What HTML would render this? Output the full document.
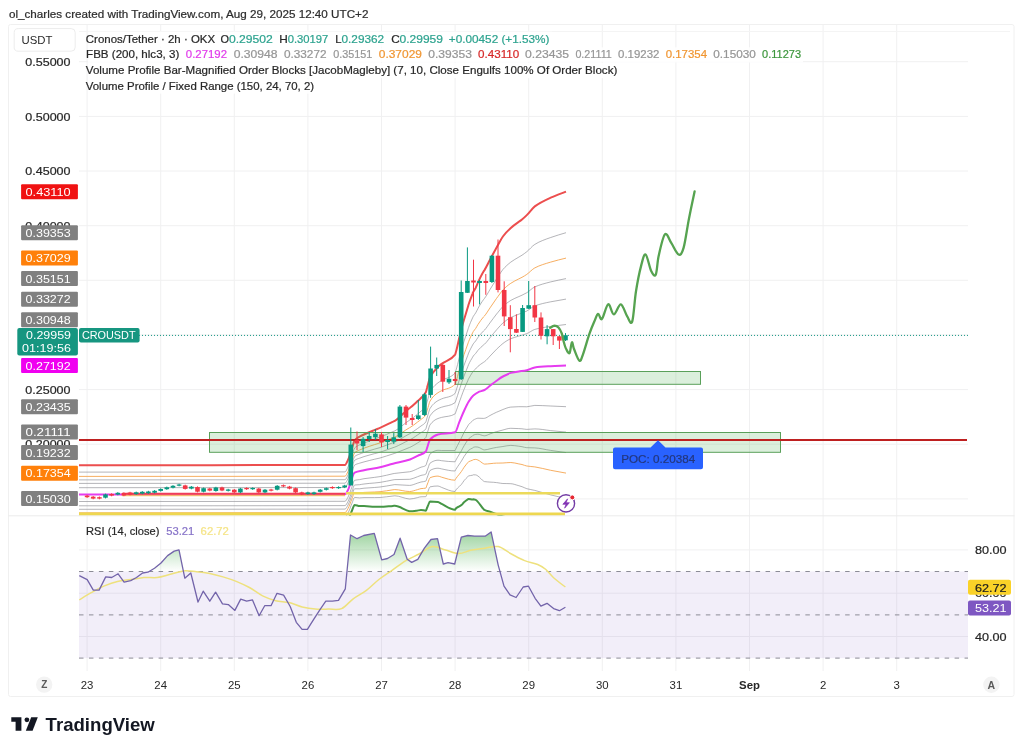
<!DOCTYPE html>
<html><head><meta charset="utf-8"><style>
html,body{margin:0;padding:0;background:#fff;}
body{width:1024px;height:752px;overflow:hidden;position:relative;font-family:'Liberation Sans', sans-serif;}
svg{position:absolute;left:0;top:0;filter:blur(0.3px);}
svg text{font-family:'Liberation Sans', sans-serif;}
</style></head><body>
<svg width="1024" height="752" viewBox="0 0 1024 752">
<defs>
<clipPath id="mainclip"><rect x="79" y="31" width="889" height="484.5"/></clipPath>
<clipPath id="rsiclip"><rect x="79" y="516.5" width="889" height="154.5"/></clipPath>
<linearGradient id="rsig" x1="0" y1="0" x2="0" y2="1"><stop offset="0" stop-color="rgb(76,175,80)" stop-opacity="0.55"/><stop offset="1" stop-color="rgb(76,175,80)" stop-opacity="0"/></linearGradient>
</defs>
<rect x="8.5" y="24.5" width="1005.5" height="672" rx="2" fill="#fff" stroke="#f0f0f0" stroke-width="1"/>
<line x1="79" x2="968" y1="61.7" y2="61.7" stroke="#f0f0f1" stroke-width="1"/>
<line x1="79" x2="968" y1="116.4" y2="116.4" stroke="#f0f0f1" stroke-width="1"/>
<line x1="79" x2="968" y1="171.0" y2="171.0" stroke="#f0f0f1" stroke-width="1"/>
<line x1="79" x2="968" y1="225.7" y2="225.7" stroke="#f0f0f1" stroke-width="1"/>
<line x1="79" x2="968" y1="280.3" y2="280.3" stroke="#f0f0f1" stroke-width="1"/>
<line x1="79" x2="968" y1="335.0" y2="335.0" stroke="#f0f0f1" stroke-width="1"/>
<line x1="79" x2="968" y1="389.6" y2="389.6" stroke="#f0f0f1" stroke-width="1"/>
<line x1="79" x2="968" y1="444.2" y2="444.2" stroke="#f0f0f1" stroke-width="1"/>
<line x1="79" x2="968" y1="498.9" y2="498.9" stroke="#f0f0f1" stroke-width="1"/>
<line x1="87.1" x2="87.1" y1="25" y2="671" stroke="#f0f0f1" stroke-width="1"/>
<line x1="160.7" x2="160.7" y1="25" y2="671" stroke="#f0f0f1" stroke-width="1"/>
<line x1="234.3" x2="234.3" y1="25" y2="671" stroke="#f0f0f1" stroke-width="1"/>
<line x1="307.9" x2="307.9" y1="25" y2="671" stroke="#f0f0f1" stroke-width="1"/>
<line x1="381.5" x2="381.5" y1="25" y2="671" stroke="#f0f0f1" stroke-width="1"/>
<line x1="455.1" x2="455.1" y1="25" y2="671" stroke="#f0f0f1" stroke-width="1"/>
<line x1="528.7" x2="528.7" y1="25" y2="671" stroke="#f0f0f1" stroke-width="1"/>
<line x1="602.3" x2="602.3" y1="25" y2="671" stroke="#f0f0f1" stroke-width="1"/>
<line x1="675.9" x2="675.9" y1="25" y2="671" stroke="#f0f0f1" stroke-width="1"/>
<line x1="749.5" x2="749.5" y1="25" y2="671" stroke="#f0f0f1" stroke-width="1"/>
<line x1="823.1" x2="823.1" y1="25" y2="671" stroke="#f0f0f1" stroke-width="1"/>
<line x1="896.7" x2="896.7" y1="25" y2="671" stroke="#f0f0f1" stroke-width="1"/>
<line x1="79" x2="968" y1="549.9" y2="549.9" stroke="#f0f0f1" stroke-width="1"/>
<line x1="79" x2="968" y1="593.2" y2="593.2" stroke="#f0f0f1" stroke-width="1"/>
<line x1="79" x2="968" y1="636.5" y2="636.5" stroke="#f0f0f1" stroke-width="1"/>
<line x1="79" x2="1010" y1="31.5" y2="31.5" stroke="#f4f4f4" stroke-width="1"/>
<line x1="8.5" x2="1014.5" y1="515.8" y2="515.8" stroke="#ececec" stroke-width="1"/>
<g clip-path="url(#mainclip)">
<path d="M79.0,465.2 C167.7,465.1 256.3,465.2 345.0,465.0 C346.0,465.0 347.0,462.0 348.0,459.9 C349.3,457.1 350.7,452.5 352.0,448.5 C352.9,445.9 353.7,441.5 354.6,440.4 C356.3,438.3 357.9,437.7 359.6,436.7 C361.1,435.9 362.5,435.2 364.0,434.5 C367.4,432.9 370.9,431.5 374.3,430.1 C376.2,429.3 378.1,428.6 380.0,427.8 C384.3,426.0 388.7,423.7 393.0,421.7 C393.6,421.4 394.2,421.2 394.8,420.8 C399.7,418.1 404.5,411.6 409.4,408.2 C409.6,408.0 409.8,407.9 410.0,407.8 C412.5,406.0 415.1,403.4 417.6,401.1 C418.7,400.1 419.9,399.2 421.0,398.0 C422.6,396.4 424.2,395.5 425.8,392.3 C426.2,391.5 426.6,389.4 427.0,388.0 C427.3,386.7 427.7,385.5 428.0,384.3 C428.7,382.0 429.3,378.8 430.0,377.4 C432.7,371.9 435.3,369.5 438.0,366.9 C439.2,365.7 440.4,364.8 441.6,363.9 C446.1,360.5 450.6,360.8 455.1,354.6 C455.3,354.3 455.6,353.3 455.8,352.5 C457.0,348.6 458.1,342.7 459.3,337.8 C460.0,334.9 460.7,331.8 461.4,329.1 C462.3,325.8 463.1,322.7 464.0,319.8 C465.3,315.4 466.5,311.6 467.8,307.3 C468.1,306.4 468.3,305.4 468.6,304.5 C469.9,300.3 471.3,296.8 472.6,293.5 C472.8,292.9 473.1,292.4 473.3,291.9 C474.1,290.3 474.9,289.5 475.7,287.9 C476.4,286.4 477.2,284.3 477.9,282.7 C479.8,278.5 481.8,274.4 483.7,271.3 C484.0,270.8 484.2,270.5 484.5,270.1 C486.3,267.2 488.2,263.2 490.0,259.8 C492.2,255.7 494.4,251.4 496.6,247.4 C497.1,246.5 497.6,245.6 498.1,244.7 C499.7,241.9 501.3,238.7 502.9,236.5 C505.5,232.9 508.2,230.3 510.8,227.9 C513.5,225.5 516.1,223.7 518.8,221.8 C519.9,221.0 520.9,220.3 522.0,219.4 C523.6,218.1 525.2,216.7 526.8,215.1 C529.5,212.5 532.1,208.4 534.8,206.4 C540.1,202.4 545.4,200.1 550.7,197.7 C555.8,195.3 560.9,193.6 566.0,191.6" fill="none" stroke="rgb(236,78,78)" stroke-width="2.0" stroke-linejoin="round"/>
<path d="M79.0,472.1 C167.7,472.1 256.3,472.1 345.0,471.9 C346.0,471.9 347.0,469.1 348.0,467.0 C349.3,464.3 350.7,459.7 352.0,455.8 C352.9,453.3 353.7,449.0 354.6,448.0 C356.3,446.2 357.9,445.8 359.6,444.9 C361.1,444.2 362.5,443.6 364.0,443.0 C367.4,441.6 370.9,440.3 374.3,439.1 C376.2,438.4 378.1,437.9 380.0,437.1 C384.3,435.5 388.7,433.4 393.0,431.6 C393.6,431.4 394.2,431.2 394.8,430.9 C399.7,428.5 404.5,423.2 409.4,420.3 C409.6,420.2 409.8,420.1 410.0,420.0 C412.5,418.4 415.1,416.1 417.6,414.0 C418.7,413.1 419.9,412.3 421.0,411.2 C422.6,409.8 424.2,409.1 425.8,406.3 C426.2,405.6 426.6,403.5 427.0,402.1 C427.3,401.0 427.7,399.8 428.0,398.6 C428.7,396.4 429.3,393.4 430.0,392.1 C432.7,387.0 435.3,385.0 438.0,382.8 C439.2,381.8 440.4,381.2 441.6,380.5 C446.1,377.7 450.6,378.2 455.1,372.9 C455.3,372.6 455.6,371.7 455.8,370.9 C457.0,367.3 458.1,362.1 459.3,357.7 C460.0,355.1 460.7,352.4 461.4,349.9 C462.3,346.9 463.1,344.0 464.0,341.3 C465.3,337.3 466.5,333.9 467.8,330.0 C468.1,329.2 468.3,328.2 468.6,327.5 C469.9,323.7 471.3,320.7 472.6,317.8 C472.8,317.3 473.1,316.8 473.3,316.4 C474.1,315.0 474.9,314.2 475.7,312.9 C476.4,311.7 477.2,309.9 477.9,308.6 C479.8,305.1 481.8,301.9 483.7,299.4 C484.0,299.0 484.2,298.8 484.5,298.4 C486.3,296.0 488.2,292.5 490.0,289.5 C492.2,286.0 494.4,282.3 496.6,278.8 C497.1,278.1 497.6,277.3 498.1,276.6 C499.7,274.2 501.3,271.4 502.9,269.5 C505.5,266.5 508.2,264.1 510.8,262.1 C513.5,260.1 516.1,258.7 518.8,257.1 C519.9,256.4 520.9,255.9 522.0,255.2 C523.6,254.1 525.2,253.0 526.8,251.7 C529.5,249.6 532.1,246.0 534.8,244.4 C540.1,241.1 545.4,239.4 550.7,237.5 C555.8,235.6 560.9,234.3 566.0,232.7" fill="none" stroke="rgba(145,145,150,0.68)" stroke-width="1" stroke-linejoin="round"/>
<path d="M79.0,476.4 C167.7,476.4 256.3,476.4 345.0,476.2 C346.0,476.2 347.0,473.4 348.0,471.4 C349.3,468.7 350.7,464.2 352.0,460.4 C352.9,457.9 353.7,453.6 354.6,452.8 C356.3,451.1 357.9,450.8 359.6,450.0 C361.1,449.3 362.5,448.7 364.0,448.2 C367.4,446.9 370.9,445.8 374.3,444.7 C376.2,444.1 378.1,443.6 380.0,442.9 C384.3,441.4 388.7,439.4 393.0,437.8 C393.6,437.5 394.2,437.3 394.8,437.1 C399.7,434.9 404.5,430.4 409.4,427.8 C409.6,427.7 409.8,427.6 410.0,427.5 C412.5,426.1 415.1,423.9 417.6,422.0 C418.7,421.2 419.9,420.4 421.0,419.4 C422.6,418.1 424.2,417.6 425.8,414.9 C426.2,414.3 426.6,412.2 427.0,410.9 C427.3,409.8 427.7,408.6 428.0,407.5 C428.7,405.3 429.3,402.3 430.0,401.2 C432.7,396.4 435.3,394.5 438.0,392.7 C439.2,391.8 440.4,391.3 441.6,390.7 C446.1,388.3 450.6,388.9 455.1,384.2 C455.3,384.0 455.6,383.0 455.8,382.3 C457.0,378.8 458.1,374.1 459.3,370.0 C460.0,367.6 460.7,365.1 461.4,362.8 C462.3,359.9 463.1,357.2 464.0,354.6 C465.3,350.9 466.5,347.6 467.8,344.0 C468.1,343.2 468.3,342.3 468.6,341.7 C469.9,338.2 471.3,335.5 472.6,332.9 C472.8,332.4 473.1,331.9 473.3,331.5 C474.1,330.2 474.9,329.6 475.7,328.4 C476.4,327.3 477.2,325.7 477.9,324.6 C479.8,321.6 481.8,318.9 483.7,316.7 C484.0,316.4 484.2,316.2 484.5,315.9 C486.3,313.8 488.2,310.6 490.0,307.9 C492.2,304.7 494.4,301.4 496.6,298.3 C497.1,297.6 497.6,296.9 498.1,296.3 C499.7,294.1 501.3,291.7 502.9,290.0 C505.5,287.2 508.2,285.0 510.8,283.3 C513.5,281.5 516.1,280.3 518.8,278.9 C519.9,278.4 520.9,277.9 522.0,277.3 C523.6,276.4 525.2,275.5 526.8,274.4 C529.5,272.5 532.1,269.3 534.8,267.9 C540.1,265.1 545.4,263.7 550.7,262.1 C555.8,260.5 560.9,259.4 566.0,258.1" fill="none" stroke="rgba(245,170,90,0.95)" stroke-width="1" stroke-linejoin="round"/>
<path d="M79.0,479.9 C167.7,479.8 256.3,479.9 345.0,479.7 C346.0,479.7 347.0,476.9 348.0,475.0 C349.3,472.3 350.7,467.8 352.0,464.0 C352.9,461.6 353.7,457.4 354.6,456.6 C356.3,455.0 357.9,454.8 359.6,454.1 C361.1,453.4 362.5,452.9 364.0,452.4 C367.4,451.2 370.9,450.2 374.3,449.2 C376.2,448.7 378.1,448.2 380.0,447.6 C384.3,446.2 388.7,444.3 393.0,442.7 C393.6,442.5 394.2,442.3 394.8,442.1 C399.7,440.1 404.5,436.2 409.4,433.9 C409.6,433.8 409.8,433.7 410.0,433.6 C412.5,432.3 415.1,430.2 417.6,428.5 C418.7,427.7 419.9,426.9 421.0,426.0 C422.6,424.8 424.2,424.4 425.8,421.9 C426.2,421.3 426.6,419.3 427.0,418.0 C427.3,416.9 427.7,415.7 428.0,414.7 C428.7,412.5 429.3,409.6 430.0,408.5 C432.7,404.0 435.3,402.3 438.0,400.6 C439.2,399.9 440.4,399.5 441.6,398.9 C446.1,396.9 450.6,397.5 455.1,393.4 C455.3,393.2 455.6,392.2 455.8,391.5 C457.0,388.1 458.1,383.8 459.3,380.0 C460.0,377.7 460.7,375.3 461.4,373.1 C462.3,370.4 463.1,367.8 464.0,365.4 C465.3,361.8 466.5,358.7 467.8,355.3 C468.1,354.6 468.3,353.8 468.6,353.1 C469.9,349.9 471.3,347.5 472.6,345.0 C472.8,344.6 473.1,344.1 473.3,343.8 C474.1,342.6 474.9,342.0 475.7,340.9 C476.4,339.9 477.2,338.5 477.9,337.5 C479.8,334.9 481.8,332.7 483.7,330.8 C484.0,330.5 484.2,330.3 484.5,330.1 C486.3,328.2 488.2,325.2 490.0,322.8 C492.2,319.9 494.4,316.8 496.6,314.0 C497.1,313.4 497.6,312.8 498.1,312.2 C499.7,310.3 501.3,308.0 502.9,306.5 C505.5,304.0 508.2,302.0 510.8,300.4 C513.5,298.8 516.1,297.8 518.8,296.6 C519.9,296.1 520.9,295.7 522.0,295.2 C523.6,294.4 525.2,293.6 526.8,292.7 C529.5,291.1 532.1,288.1 534.8,286.9 C540.1,284.5 545.4,283.3 550.7,281.9 C555.8,280.6 560.9,279.7 566.0,278.6" fill="none" stroke="rgba(145,145,150,0.68)" stroke-width="1" stroke-linejoin="round"/>
<path d="M79.0,483.4 C167.7,483.3 256.3,483.4 345.0,483.2 C346.0,483.2 347.0,480.5 348.0,478.5 C349.3,475.9 350.7,471.4 352.0,467.7 C352.9,465.3 353.7,461.1 354.6,460.4 C356.3,459.0 357.9,458.8 359.6,458.2 C361.1,457.6 362.5,457.1 364.0,456.6 C367.4,455.5 370.9,454.7 374.3,453.7 C376.2,453.2 378.1,452.8 380.0,452.2 C384.3,450.9 388.7,449.2 393.0,447.7 C393.6,447.5 394.2,447.3 394.8,447.1 C399.7,445.3 404.5,442.1 409.4,440.0 C409.6,439.9 409.8,439.8 410.0,439.7 C412.5,438.6 415.1,436.6 417.6,434.9 C418.7,434.2 419.9,433.4 421.0,432.6 C422.6,431.5 424.2,431.2 425.8,428.9 C426.2,428.3 426.6,426.3 427.0,425.0 C427.3,424.0 427.7,422.9 428.0,421.8 C428.7,419.7 429.3,416.8 430.0,415.8 C432.7,411.7 435.3,410.0 438.0,408.6 C439.2,408.0 440.4,407.6 441.6,407.2 C446.1,405.5 450.6,406.1 455.1,402.6 C455.3,402.4 455.6,401.4 455.8,400.7 C457.0,397.5 458.1,393.5 459.3,389.9 C460.0,387.8 460.7,385.6 461.4,383.5 C462.3,381.0 463.1,378.5 464.0,376.1 C465.3,372.8 466.5,369.9 467.8,366.6 C468.1,366.0 468.3,365.2 468.6,364.6 C469.9,361.6 471.3,359.5 472.6,357.2 C472.8,356.8 473.1,356.3 473.3,356.0 C474.1,354.9 474.9,354.3 475.7,353.4 C476.4,352.5 477.2,351.3 477.9,350.4 C479.8,348.2 481.8,346.4 483.7,344.8 C484.0,344.6 484.2,344.4 484.5,344.2 C486.3,342.6 488.2,339.9 490.0,337.7 C492.2,335.0 494.4,332.3 496.6,329.8 C497.1,329.2 497.6,328.7 498.1,328.1 C499.7,326.4 501.3,324.4 502.9,323.0 C505.5,320.8 508.2,318.9 510.8,317.5 C513.5,316.1 516.1,315.3 518.8,314.2 C519.9,313.8 520.9,313.5 522.0,313.0 C523.6,312.4 525.2,311.8 526.8,311.0 C529.5,309.6 532.1,306.9 534.8,305.9 C540.1,303.9 545.4,302.9 550.7,301.8 C555.8,300.8 560.9,300.0 566.0,299.1" fill="none" stroke="rgba(145,145,150,0.68)" stroke-width="1" stroke-linejoin="round"/>
<path d="M79.0,487.7 C167.7,487.6 256.3,487.7 345.0,487.5 C346.0,487.5 347.0,484.8 348.0,482.9 C349.3,480.3 350.7,475.8 352.0,472.2 C352.9,469.9 353.7,465.7 354.6,465.1 C356.3,463.9 357.9,463.8 359.6,463.2 C361.1,462.7 362.5,462.3 364.0,461.9 C367.4,460.9 370.9,460.2 374.3,459.3 C376.2,458.9 378.1,458.5 380.0,458.0 C384.3,456.8 388.7,455.2 393.0,453.9 C393.6,453.7 394.2,453.5 394.8,453.3 C399.7,451.7 404.5,449.3 409.4,447.5 C409.6,447.4 409.8,447.4 410.0,447.3 C412.5,446.3 415.1,444.4 417.6,442.9 C418.7,442.2 419.9,441.5 421.0,440.8 C422.6,439.8 424.2,439.6 425.8,437.5 C426.2,437.0 426.6,435.0 427.0,433.8 C427.3,432.8 427.7,431.7 428.0,430.7 C428.7,428.7 429.3,425.8 430.0,424.9 C432.7,421.1 435.3,419.5 438.0,418.5 C439.2,418.0 440.4,417.8 441.6,417.4 C446.1,416.2 450.6,416.7 455.1,413.9 C455.3,413.7 455.6,412.7 455.8,412.1 C457.0,409.0 458.1,405.5 459.3,402.2 C460.0,400.3 460.7,398.3 461.4,396.4 C462.3,394.0 463.1,391.6 464.0,389.5 C465.3,386.3 466.5,383.6 467.8,380.7 C468.1,380.0 468.3,379.3 468.6,378.8 C469.9,376.1 471.3,374.3 472.6,372.2 C472.8,371.8 473.1,371.4 473.3,371.1 C474.1,370.2 474.9,369.7 475.7,368.9 C476.4,368.1 477.2,367.1 477.9,366.4 C479.8,364.7 481.8,363.5 483.7,362.2 C484.0,362.0 484.2,361.9 484.5,361.7 C486.3,360.4 488.2,358.0 490.0,356.1 C492.2,353.8 494.4,351.4 496.6,349.2 C497.1,348.7 497.6,348.3 498.1,347.8 C499.7,346.4 501.3,344.6 502.9,343.5 C505.5,341.5 508.2,339.8 510.8,338.7 C513.5,337.6 516.1,336.9 518.8,336.1 C519.9,335.8 520.9,335.5 522.0,335.2 C523.6,334.7 525.2,334.2 526.8,333.6 C529.5,332.6 532.1,330.2 534.8,329.4 C540.1,327.9 545.4,327.2 550.7,326.4 C555.8,325.7 560.9,325.2 566.0,324.5" fill="none" stroke="rgba(145,145,150,0.68)" stroke-width="1" stroke-linejoin="round"/>
<path d="M79.0,501.5 C167.7,501.5 256.3,501.5 345.0,501.3 C346.0,501.3 347.0,498.9 348.0,497.1 C349.3,494.7 350.7,490.2 352.0,486.8 C352.9,484.6 353.7,480.6 354.6,480.3 C356.3,479.8 357.9,479.9 359.6,479.6 C361.1,479.4 362.5,479.0 364.0,478.7 C367.4,478.2 370.9,477.9 374.3,477.4 C376.2,477.2 378.1,476.9 380.0,476.6 C384.3,475.9 388.7,474.7 393.0,473.7 C393.6,473.6 394.2,473.5 394.8,473.4 C399.7,472.6 404.5,472.5 409.4,471.8 C409.6,471.8 409.8,471.7 410.0,471.7 C412.5,471.2 415.1,469.8 417.6,468.7 C418.7,468.2 419.9,467.7 421.0,467.2 C422.6,466.6 424.2,466.7 425.8,465.5 C426.2,465.2 426.6,463.2 427.0,462.1 C427.3,461.2 427.7,460.2 428.0,459.3 C428.7,457.5 429.3,454.8 430.0,454.1 C432.7,451.7 435.3,450.3 438.0,450.3 C439.2,450.3 440.4,450.4 441.6,450.5 C446.1,450.5 450.6,450.5 455.1,450.5 C455.3,450.5 455.6,449.4 455.8,448.9 C457.0,446.4 458.1,444.3 459.3,442.0 C460.0,440.6 460.7,439.3 461.4,437.9 C462.3,436.2 463.1,434.2 464.0,432.5 C465.3,430.1 466.5,428.1 467.8,426.0 C468.1,425.5 468.3,425.0 468.6,424.6 C469.9,422.9 471.3,422.2 472.6,420.8 C472.8,420.6 473.1,420.2 473.3,420.1 C474.1,419.5 474.9,419.2 475.7,418.9 C476.4,418.6 477.2,418.2 477.9,418.2 C479.8,418.2 481.8,418.4 483.7,418.4 C484.0,418.4 484.2,418.3 484.5,418.3 C486.3,418.1 488.2,416.5 490.0,415.5 C492.2,414.4 494.4,413.1 496.6,412.2 C497.1,411.9 497.6,411.8 498.1,411.6 C499.7,410.9 501.3,410.1 502.9,409.5 C505.5,408.6 508.2,407.3 510.8,407.1 C513.5,406.9 516.1,406.8 518.8,406.7 C519.9,406.7 520.9,406.7 522.0,406.7 C523.6,406.7 525.2,406.8 526.8,406.8 C529.5,406.8 532.1,405.4 534.8,405.4 C540.1,405.4 545.4,405.8 550.7,406.0 C555.8,406.2 560.9,406.4 566.0,406.7" fill="none" stroke="rgba(145,145,150,0.68)" stroke-width="1" stroke-linejoin="round"/>
<path d="M79.0,505.8 C167.7,505.8 256.3,505.8 345.0,505.6 C346.0,505.6 347.0,503.3 348.0,501.5 C349.3,499.1 350.7,494.7 352.0,491.4 C352.9,489.2 353.7,485.2 354.6,485.0 C356.3,484.8 357.9,484.8 359.6,484.7 C361.1,484.5 362.5,484.1 364.0,484.0 C367.4,483.5 370.9,483.3 374.3,483.0 C376.2,482.8 378.1,482.6 380.0,482.4 C384.3,481.8 388.7,480.7 393.0,479.9 C393.6,479.8 394.2,479.6 394.8,479.6 C399.7,479.4 404.5,479.5 409.4,479.3 C409.6,479.3 409.8,479.3 410.0,479.3 C412.5,478.9 415.1,477.6 417.6,476.7 C418.7,476.3 419.9,475.8 421.0,475.4 C422.6,474.9 424.2,475.1 425.8,474.1 C426.2,473.9 426.6,472.0 427.0,470.9 C427.3,470.0 427.7,469.0 428.0,468.2 C428.7,466.4 429.3,463.7 430.0,463.2 C432.7,461.2 435.3,460.2 438.0,460.2 C439.2,460.2 440.4,460.5 441.6,460.7 C446.1,461.2 450.6,461.8 455.1,461.8 C455.3,461.8 455.6,460.8 455.8,460.3 C457.0,458.0 458.1,456.3 459.3,454.3 C460.0,453.1 460.7,452.0 461.4,450.8 C462.3,449.2 463.1,447.3 464.0,445.9 C465.3,443.7 466.5,441.9 467.8,440.0 C468.1,439.6 468.3,439.1 468.6,438.8 C469.9,437.4 471.3,437.0 472.6,435.9 C472.8,435.7 473.1,435.3 473.3,435.2 C474.1,434.8 474.9,434.5 475.7,434.4 C476.4,434.3 477.2,434.2 477.9,434.2 C479.8,434.2 481.8,435.5 483.7,435.7 C484.0,435.8 484.2,435.8 484.5,435.8 C486.3,435.8 488.2,434.6 490.0,433.9 C492.2,433.2 494.4,432.2 496.6,431.6 C497.1,431.5 497.6,431.4 498.1,431.3 C499.7,430.9 501.3,430.4 502.9,430.0 C505.5,429.3 508.2,428.3 510.8,428.3 C513.5,428.3 516.1,428.4 518.8,428.6 C519.9,428.6 520.9,428.7 522.0,428.8 C523.6,428.9 525.2,429.4 526.8,429.4 C529.5,429.4 532.1,428.9 534.8,428.9 C540.1,428.9 545.4,430.0 550.7,430.6 C555.8,431.1 560.9,431.6 566.0,432.1" fill="none" stroke="rgba(145,145,150,0.68)" stroke-width="1" stroke-linejoin="round"/>
<path d="M79.0,509.3 C167.7,509.2 256.3,509.3 345.0,509.1 C346.0,509.1 347.0,506.8 348.0,505.0 C349.3,502.7 350.7,498.3 352.0,495.0 C352.9,492.9 353.7,488.9 354.6,488.8 C356.3,488.8 357.9,488.8 359.6,488.8 C361.1,488.7 362.5,488.3 364.0,488.2 C367.4,487.9 370.9,487.8 374.3,487.5 C376.2,487.4 378.1,487.2 380.0,487.0 C384.3,486.6 388.7,485.5 393.0,484.9 C393.6,484.8 394.2,484.6 394.8,484.6 C399.7,484.6 404.5,485.4 409.4,485.4 C409.6,485.4 409.8,485.4 410.0,485.4 C412.5,485.2 415.1,483.9 417.6,483.1 C418.7,482.8 419.9,482.3 421.0,482.0 C422.6,481.6 424.2,481.8 425.8,481.1 C426.2,480.9 426.6,479.0 427.0,478.0 C427.3,477.1 427.7,476.2 428.0,475.3 C428.7,473.7 429.3,470.9 430.0,470.5 C432.7,468.9 435.3,468.2 438.0,468.2 C439.2,468.2 440.4,468.7 441.6,468.9 C446.1,469.8 450.6,471.0 455.1,471.0 C455.3,471.0 455.6,469.9 455.8,469.5 C457.0,467.4 458.1,466.0 459.3,464.2 C460.0,463.2 460.7,462.3 461.4,461.1 C462.3,459.8 463.1,458.0 464.0,456.6 C465.3,454.7 466.5,453.0 467.8,451.3 C468.1,451.0 468.3,450.5 468.6,450.3 C469.9,449.1 471.3,448.9 472.6,448.0 C472.8,447.8 473.1,447.5 473.3,447.4 C474.1,447.1 474.9,446.9 475.7,446.9 C476.4,446.9 477.2,447.0 477.9,447.1 C479.8,447.4 481.8,449.3 483.7,449.8 C484.0,449.8 484.2,449.9 484.5,449.9 C486.3,449.9 488.2,449.2 490.0,448.8 C492.2,448.3 494.4,447.7 496.6,447.4 C497.1,447.3 497.6,447.3 498.1,447.2 C499.7,447.0 501.3,446.7 502.9,446.5 C505.5,446.1 508.2,445.4 510.8,445.4 C513.5,445.4 516.1,445.9 518.8,446.2 C519.9,446.4 520.9,446.5 522.0,446.7 C523.6,446.9 525.2,447.7 526.8,447.7 C529.5,447.8 532.1,447.8 534.8,447.9 C540.1,448.1 545.4,449.7 550.7,450.4 C555.8,451.2 560.9,451.9 566.0,452.6" fill="none" stroke="rgba(145,145,150,0.68)" stroke-width="1" stroke-linejoin="round"/>
<path d="M79.0,512.8 C167.7,512.7 256.3,512.8 345.0,512.6 C346.0,512.6 347.0,510.3 348.0,508.6 C349.3,506.3 350.7,501.9 352.0,498.7 C352.9,496.6 353.7,492.6 354.6,492.6 C356.3,492.6 357.9,492.9 359.6,492.9 C361.1,492.9 362.5,492.5 364.0,492.4 C367.4,492.2 370.9,492.2 374.3,492.0 C376.2,491.9 378.1,491.8 380.0,491.7 C384.3,491.3 388.7,490.4 393.0,489.8 C393.6,489.8 394.2,489.6 394.8,489.6 C399.7,489.6 404.5,491.5 409.4,491.5 C409.6,491.5 409.8,491.5 410.0,491.5 C412.5,491.4 415.1,490.3 417.6,489.6 C418.7,489.3 419.9,488.8 421.0,488.6 C422.6,488.4 424.2,488.5 425.8,488.1 C426.2,488.0 426.6,486.0 427.0,485.0 C427.3,484.2 427.7,483.3 428.0,482.5 C428.7,480.9 429.3,478.2 430.0,477.8 C432.7,476.6 435.3,476.1 438.0,476.1 C439.2,476.1 440.4,476.9 441.6,477.2 C446.1,478.4 450.6,480.2 455.1,480.2 C455.3,480.2 455.6,479.1 455.8,478.7 C457.0,476.8 458.1,475.7 459.3,474.2 C460.0,473.3 460.7,472.5 461.4,471.5 C462.3,470.3 463.1,468.6 464.0,467.4 C465.3,465.6 466.5,464.1 467.8,462.6 C468.1,462.3 468.3,461.9 468.6,461.7 C469.9,460.9 471.3,460.9 472.6,460.2 C472.8,460.0 473.1,459.7 473.3,459.7 C474.1,459.5 474.9,459.4 475.7,459.4 C476.4,459.4 477.2,459.7 477.9,460.0 C479.8,460.7 481.8,463.0 483.7,463.8 C484.0,463.9 484.2,464.1 484.5,464.1 C486.3,464.1 488.2,463.8 490.0,463.7 C492.2,463.5 494.4,463.1 496.6,463.1 C497.1,463.1 497.6,463.1 498.1,463.1 C499.7,463.1 501.3,463.1 502.9,463.0 C505.5,462.9 508.2,462.5 510.8,462.5 C513.5,462.5 516.1,463.4 518.8,463.9 C519.9,464.1 520.9,464.3 522.0,464.5 C523.6,464.9 525.2,465.8 526.8,466.0 C529.5,466.5 532.1,466.5 534.8,466.9 C540.1,467.6 545.4,469.3 550.7,470.3 C555.8,471.3 560.9,472.2 566.0,473.1" fill="none" stroke="rgba(245,170,90,0.95)" stroke-width="1" stroke-linejoin="round"/>
<path d="M79.0,517.1 C167.7,517.0 256.3,517.1 345.0,516.9 C346.0,516.9 347.0,514.7 348.0,513.0 C349.3,510.8 350.7,506.3 352.0,503.2 C352.9,501.2 353.7,497.4 354.6,497.4 C356.3,497.4 357.9,497.9 359.6,497.9 C361.1,497.9 362.5,497.6 364.0,497.6 C367.4,497.6 370.9,497.6 374.3,497.6 C376.2,497.6 378.1,497.5 380.0,497.5 C384.3,497.3 388.7,496.4 393.0,496.0 C393.6,495.9 394.2,495.8 394.8,495.8 C399.7,495.8 404.5,498.7 409.4,499.0 C409.6,499.0 409.8,499.0 410.0,499.0 C412.5,499.0 415.1,498.1 417.6,497.6 C418.7,497.3 419.9,496.8 421.0,496.8 C422.6,496.8 424.2,496.8 425.8,496.7 C426.2,496.7 426.6,494.8 427.0,493.8 C427.3,493.0 427.7,492.1 428.0,491.4 C428.7,489.8 429.3,487.1 430.0,486.9 C432.7,486.2 435.3,486.0 438.0,486.0 C439.2,486.0 440.4,487.0 441.6,487.4 C446.1,489.0 450.6,491.5 455.1,491.5 C455.3,491.5 455.6,490.5 455.8,490.1 C457.0,488.4 458.1,487.7 459.3,486.5 C460.0,485.8 460.7,485.2 461.4,484.4 C462.3,483.4 463.1,481.8 464.0,480.7 C465.3,479.2 466.5,477.9 467.8,476.7 C468.1,476.4 468.3,476.0 468.6,475.9 C469.9,475.5 471.3,475.6 472.6,475.2 C472.8,475.1 473.1,474.8 473.3,474.8 C474.1,474.8 474.9,474.8 475.7,474.9 C476.4,474.9 477.2,475.5 477.9,476.0 C479.8,477.2 481.8,480.0 483.7,481.2 C484.0,481.4 484.2,481.5 484.5,481.6 C486.3,481.9 488.2,481.9 490.0,482.1 C492.2,482.2 494.4,482.3 496.6,482.6 C497.1,482.6 497.6,482.8 498.1,482.8 C499.7,483.1 501.3,483.4 502.9,483.5 C505.5,483.6 508.2,483.5 510.8,483.7 C513.5,483.8 516.1,485.0 518.8,485.7 C519.9,486.0 520.9,486.3 522.0,486.7 C523.6,487.2 525.2,488.2 526.8,488.7 C529.5,489.4 532.1,489.8 534.8,490.4 C540.1,491.7 545.4,493.6 550.7,494.9 C555.8,496.2 560.9,497.3 566.0,498.5" fill="none" stroke="rgba(145,145,150,0.68)" stroke-width="1" stroke-linejoin="round"/>
<path d="M79.0,524.0 C167.7,523.9 256.3,524.0 345.0,523.8 C346.0,523.8 347.0,521.7 348.0,520.1 C349.3,517.9 350.7,513.5 352.0,510.5 C352.9,508.6 353.7,505.0 354.6,505.0 C356.3,505.0 357.9,506.1 359.6,506.1 C361.1,506.1 362.5,506.1 364.0,506.1 C367.4,506.1 370.9,506.6 374.3,506.7 C376.2,506.7 378.1,506.8 380.0,506.8 C384.3,506.8 388.7,506.2 393.0,505.9 C393.6,505.9 394.2,505.8 394.8,505.8 C399.7,505.8 404.5,510.3 409.4,511.2 C409.6,511.2 409.8,511.2 410.0,511.2 C412.5,511.2 415.1,510.8 417.6,510.5 C418.7,510.3 419.9,510.0 421.0,510.0 C422.6,510.0 424.2,510.7 425.8,510.7 C426.2,510.7 426.6,508.9 427.0,508.0 C427.3,507.2 427.7,506.4 428.0,505.7 C428.7,504.2 429.3,501.6 430.0,501.6 C432.7,501.6 435.3,501.7 438.0,501.9 C439.2,502.1 440.4,503.3 441.6,503.9 C446.1,506.2 450.6,509.8 455.1,509.8 C455.3,509.8 455.6,508.8 455.8,508.5 C457.0,507.3 458.1,507.0 459.3,506.4 C460.0,505.9 460.7,505.7 461.4,505.1 C462.3,504.5 463.1,503.0 464.0,502.2 C465.3,501.1 466.5,500.1 467.8,499.3 C468.1,499.1 468.3,498.9 468.6,498.9 C469.9,498.9 471.3,499.5 472.6,499.5 C472.8,499.5 473.1,499.3 473.3,499.3 C474.1,499.3 474.9,499.6 475.7,499.9 C476.4,500.2 477.2,501.1 477.9,501.9 C479.8,503.9 481.8,507.5 483.7,509.3 C484.0,509.5 484.2,509.7 484.5,509.9 C486.3,510.9 488.2,511.2 490.0,511.8 C492.2,512.6 494.4,513.2 496.6,514.0 C497.1,514.2 497.6,514.5 498.1,514.7 C499.7,515.4 501.3,516.1 502.9,516.5 C505.5,517.2 508.2,517.3 510.8,517.9 C513.5,518.6 516.1,519.9 518.8,521.0 C519.9,521.5 520.9,521.9 522.0,522.4 C523.6,523.2 525.2,524.5 526.8,525.3 C529.5,526.5 532.1,527.3 534.8,528.4 C540.1,530.5 545.4,532.8 550.7,534.7 C555.8,536.5 560.9,538.0 566.0,539.6" fill="none" stroke="rgb(70,150,70)" stroke-width="2.0" stroke-linejoin="round"/>
<rect x="209.5" y="432.5" width="571" height="19.8" fill="rgba(76,175,80,0.2)" stroke="rgb(90,160,90)" stroke-width="1"/>
<rect x="455.5" y="371.5" width="245" height="12.8" fill="rgba(76,175,80,0.2)" stroke="rgb(90,160,90)" stroke-width="1"/>
<path d="M79.0,494.6 C167.7,494.5 256.3,494.6 345.0,494.4 C346.0,494.4 347.0,491.8 348.0,490.0 C350.2,486.0 352.4,473.8 354.6,472.7 C357.7,471.2 360.9,471.0 364.0,470.3 C369.3,469.1 374.7,468.5 380.0,467.3 C384.3,466.3 388.7,464.9 393.0,463.8 C398.7,462.3 404.3,461.5 410.0,459.5 C412.5,458.6 415.1,457.1 417.6,455.8 C420.3,454.4 423.1,454.3 425.8,451.5 C426.5,450.7 427.3,447.1 428.0,445.0 C428.7,443.1 429.3,440.3 430.0,439.5 C432.7,436.3 435.3,435.0 438.0,434.4 C443.7,433.1 449.4,433.9 455.1,432.2 C456.5,431.8 457.9,425.4 459.3,422.1 C460.9,418.4 462.4,414.4 464.0,411.0 C465.5,407.7 467.1,404.1 468.6,401.7 C470.2,399.2 471.7,397.0 473.3,395.6 C474.8,394.2 476.4,393.0 477.9,392.3 C480.1,391.2 482.3,391.1 484.5,390.0 C486.3,389.1 488.2,387.2 490.0,385.8 C492.2,384.1 494.4,382.3 496.6,380.7 C498.7,379.2 500.8,377.6 502.9,376.5 C505.5,375.1 508.2,373.6 510.8,372.9 C513.5,372.2 516.1,371.8 518.8,371.4 C521.5,371.0 524.1,370.8 526.8,370.2 C529.5,369.6 532.1,367.8 534.8,367.4 C540.1,366.7 545.4,366.5 550.7,366.2 C555.8,365.9 560.9,365.8 566.0,365.6" fill="none" stroke="rgb(230,60,240)" stroke-width="2" stroke-linejoin="round"/>
<line x1="122" x2="345" y1="495.3" y2="495.3" stroke="rgba(245,190,80,0.8)" stroke-width="2"/>
<line x1="122" x2="345" y1="493.8" y2="493.8" stroke="rgb(240,60,90)" stroke-width="2"/>
<line x1="346" x2="560" y1="493.3" y2="493.3" stroke="rgb(236,218,90)" stroke-width="2.6"/>
<line x1="79" x2="565" y1="514" y2="514" stroke="rgb(238,215,80)" stroke-width="2.8"/>
<line x1="79" x2="967" y1="440" y2="440" stroke="rgb(190,32,32)" stroke-width="2"/>
<line x1="79" x2="968" y1="335.4" y2="335.4" stroke="rgb(20,150,130)" stroke-width="1" stroke-dasharray="1,2"/>
<line x1="87.1" x2="87.1" y1="494.9" y2="497.9" stroke="rgb(242,54,69)" stroke-width="1"/>
<rect x="84.8" y="495.6" width="4.6" height="1.6" fill="rgb(242,54,69)"/>
<line x1="93.2" x2="93.2" y1="496.0" y2="499.3" stroke="rgb(242,54,69)" stroke-width="1"/>
<rect x="90.9" y="496.7" width="4.6" height="1.9" fill="rgb(242,54,69)"/>
<line x1="99.4" x2="99.4" y1="496.5" y2="499.3" stroke="rgb(242,54,69)" stroke-width="1"/>
<rect x="97.1" y="497.2" width="4.6" height="1.4" fill="rgb(242,54,69)"/>
<line x1="105.5" x2="105.5" y1="493.7" y2="498.4" stroke="rgb(8,153,129)" stroke-width="1"/>
<rect x="103.2" y="494.4" width="4.6" height="3.3" fill="rgb(8,153,129)"/>
<line x1="111.6" x2="111.6" y1="493.3" y2="496.3" stroke="rgb(242,54,69)" stroke-width="1"/>
<rect x="109.3" y="494.0" width="4.6" height="1.6" fill="rgb(242,54,69)"/>
<line x1="117.8" x2="117.8" y1="492.1" y2="495.3" stroke="rgb(8,153,129)" stroke-width="1"/>
<rect x="115.5" y="492.8" width="4.6" height="1.8" fill="rgb(8,153,129)"/>
<line x1="123.9" x2="123.9" y1="492.3" y2="496.2" stroke="rgb(242,54,69)" stroke-width="1"/>
<rect x="121.6" y="493.0" width="4.6" height="2.5" fill="rgb(242,54,69)"/>
<line x1="130.0" x2="130.0" y1="491.8" y2="495.3" stroke="rgb(242,54,69)" stroke-width="1"/>
<rect x="127.7" y="492.5" width="4.6" height="2.1" fill="rgb(242,54,69)"/>
<line x1="136.2" x2="136.2" y1="491.6" y2="494.8" stroke="rgb(8,153,129)" stroke-width="1"/>
<rect x="133.9" y="492.3" width="4.6" height="1.8" fill="rgb(8,153,129)"/>
<line x1="142.3" x2="142.3" y1="491.1" y2="494.3" stroke="rgb(8,153,129)" stroke-width="1"/>
<rect x="140.0" y="491.8" width="4.6" height="1.8" fill="rgb(8,153,129)"/>
<line x1="148.4" x2="148.4" y1="490.8" y2="493.9" stroke="rgb(8,153,129)" stroke-width="1"/>
<rect x="146.1" y="491.5" width="4.6" height="1.7" fill="rgb(8,153,129)"/>
<line x1="154.6" x2="154.6" y1="490.1" y2="493.4" stroke="rgb(8,153,129)" stroke-width="1"/>
<rect x="152.3" y="490.8" width="4.6" height="1.9" fill="rgb(8,153,129)"/>
<line x1="160.7" x2="160.7" y1="488.3" y2="491.6" stroke="rgb(8,153,129)" stroke-width="1"/>
<rect x="158.4" y="489.0" width="4.6" height="1.9" fill="rgb(8,153,129)"/>
<line x1="166.8" x2="166.8" y1="486.6" y2="489.9" stroke="rgb(8,153,129)" stroke-width="1"/>
<rect x="164.5" y="487.3" width="4.6" height="1.9" fill="rgb(8,153,129)"/>
<line x1="173.0" x2="173.0" y1="485.1" y2="488.4" stroke="rgb(8,153,129)" stroke-width="1"/>
<rect x="170.7" y="485.8" width="4.6" height="1.9" fill="rgb(8,153,129)"/>
<line x1="179.1" x2="179.1" y1="483.8" y2="486.3" stroke="rgb(8,153,129)" stroke-width="1"/>
<rect x="176.8" y="484.5" width="4.6" height="1.2" fill="rgb(8,153,129)"/>
<line x1="185.2" x2="185.2" y1="484.7" y2="489.6" stroke="rgb(242,54,69)" stroke-width="1"/>
<rect x="182.9" y="485.4" width="4.6" height="3.5" fill="rgb(242,54,69)"/>
<line x1="191.4" x2="191.4" y1="486.0" y2="489.3" stroke="rgb(8,153,129)" stroke-width="1"/>
<rect x="189.1" y="486.7" width="4.6" height="1.9" fill="rgb(8,153,129)"/>
<line x1="197.5" x2="197.5" y1="486.4" y2="492.4" stroke="rgb(242,54,69)" stroke-width="1"/>
<rect x="195.2" y="487.1" width="4.6" height="4.6" fill="rgb(242,54,69)"/>
<line x1="203.6" x2="203.6" y1="487.5" y2="492.4" stroke="rgb(8,153,129)" stroke-width="1"/>
<rect x="201.3" y="488.2" width="4.6" height="3.5" fill="rgb(8,153,129)"/>
<line x1="209.8" x2="209.8" y1="487.8" y2="491.3" stroke="rgb(242,54,69)" stroke-width="1"/>
<rect x="207.5" y="488.5" width="4.6" height="2.1" fill="rgb(242,54,69)"/>
<line x1="215.9" x2="215.9" y1="486.8" y2="491.7" stroke="rgb(8,153,129)" stroke-width="1"/>
<rect x="213.6" y="487.5" width="4.6" height="3.5" fill="rgb(8,153,129)"/>
<line x1="222.0" x2="222.0" y1="486.7" y2="491.2" stroke="rgb(242,54,69)" stroke-width="1"/>
<rect x="219.7" y="487.4" width="4.6" height="3.1" fill="rgb(242,54,69)"/>
<line x1="228.2" x2="228.2" y1="488.8" y2="491.5" stroke="rgb(8,153,129)" stroke-width="1"/>
<rect x="225.9" y="489.5" width="4.6" height="1.3" fill="rgb(8,153,129)"/>
<line x1="234.3" x2="234.3" y1="489.0" y2="493.1" stroke="rgb(242,54,69)" stroke-width="1"/>
<rect x="232.0" y="489.7" width="4.6" height="2.7" fill="rgb(242,54,69)"/>
<line x1="240.4" x2="240.4" y1="487.9" y2="493.1" stroke="rgb(8,153,129)" stroke-width="1"/>
<rect x="238.1" y="488.6" width="4.6" height="3.8" fill="rgb(8,153,129)"/>
<line x1="246.6" x2="246.6" y1="487.3" y2="489.9" stroke="rgb(242,54,69)" stroke-width="1"/>
<rect x="244.3" y="488.0" width="4.6" height="1.2" fill="rgb(242,54,69)"/>
<line x1="252.7" x2="252.7" y1="487.3" y2="489.9" stroke="rgb(8,153,129)" stroke-width="1"/>
<rect x="250.4" y="488.0" width="4.6" height="1.2" fill="rgb(8,153,129)"/>
<line x1="258.8" x2="258.8" y1="487.9" y2="493.1" stroke="rgb(242,54,69)" stroke-width="1"/>
<rect x="256.5" y="488.6" width="4.6" height="3.8" fill="rgb(242,54,69)"/>
<line x1="265.0" x2="265.0" y1="489.0" y2="493.1" stroke="rgb(8,153,129)" stroke-width="1"/>
<rect x="262.7" y="489.7" width="4.6" height="2.7" fill="rgb(8,153,129)"/>
<line x1="271.1" x2="271.1" y1="488.8" y2="491.4" stroke="rgb(242,54,69)" stroke-width="1"/>
<rect x="268.8" y="489.5" width="4.6" height="1.2" fill="rgb(242,54,69)"/>
<line x1="277.2" x2="277.2" y1="485.1" y2="490.4" stroke="rgb(8,153,129)" stroke-width="1"/>
<rect x="274.9" y="485.8" width="4.6" height="3.9" fill="rgb(8,153,129)"/>
<line x1="283.4" x2="283.4" y1="484.5" y2="487.1" stroke="rgb(242,54,69)" stroke-width="1"/>
<rect x="281.1" y="485.2" width="4.6" height="1.2" fill="rgb(242,54,69)"/>
<line x1="289.5" x2="289.5" y1="485.9" y2="489.3" stroke="rgb(242,54,69)" stroke-width="1"/>
<rect x="287.2" y="486.6" width="4.6" height="2.0" fill="rgb(242,54,69)"/>
<line x1="295.6" x2="295.6" y1="487.5" y2="493.1" stroke="rgb(242,54,69)" stroke-width="1"/>
<rect x="293.3" y="488.2" width="4.6" height="4.2" fill="rgb(242,54,69)"/>
<line x1="301.8" x2="301.8" y1="491.7" y2="495.1" stroke="rgb(242,54,69)" stroke-width="1"/>
<rect x="299.5" y="492.4" width="4.6" height="2.0" fill="rgb(242,54,69)"/>
<line x1="307.9" x2="307.9" y1="491.7" y2="494.8" stroke="rgb(8,153,129)" stroke-width="1"/>
<rect x="305.6" y="492.4" width="4.6" height="1.7" fill="rgb(8,153,129)"/>
<line x1="314.0" x2="314.0" y1="491.7" y2="494.8" stroke="rgb(8,153,129)" stroke-width="1"/>
<rect x="311.7" y="492.4" width="4.6" height="1.7" fill="rgb(8,153,129)"/>
<line x1="320.2" x2="320.2" y1="489.0" y2="492.5" stroke="rgb(8,153,129)" stroke-width="1"/>
<rect x="317.9" y="489.7" width="4.6" height="2.1" fill="rgb(8,153,129)"/>
<line x1="326.3" x2="326.3" y1="487.5" y2="490.5" stroke="rgb(8,153,129)" stroke-width="1"/>
<rect x="324.0" y="488.2" width="4.6" height="1.6" fill="rgb(8,153,129)"/>
<line x1="332.4" x2="332.4" y1="486.3" y2="488.9" stroke="rgb(242,54,69)" stroke-width="1"/>
<rect x="330.1" y="487.0" width="4.6" height="1.2" fill="rgb(242,54,69)"/>
<line x1="338.6" x2="338.6" y1="486.3" y2="488.9" stroke="rgb(8,153,129)" stroke-width="1"/>
<rect x="336.3" y="487.0" width="4.6" height="1.2" fill="rgb(8,153,129)"/>
<line x1="344.7" x2="344.7" y1="484.8" y2="488.1" stroke="rgb(8,153,129)" stroke-width="1"/>
<rect x="342.4" y="485.5" width="4.6" height="1.9" fill="rgb(8,153,129)"/>
<line x1="350.8" x2="350.8" y1="427.5" y2="485.4" stroke="rgb(8,153,129)" stroke-width="1"/>
<rect x="348.5" y="444.6" width="4.6" height="40.8" fill="rgb(8,153,129)"/>
<line x1="357.0" x2="357.0" y1="431.5" y2="450.0" stroke="rgb(242,54,69)" stroke-width="1"/>
<rect x="354.7" y="440.0" width="4.6" height="3.5" fill="rgb(242,54,69)"/>
<line x1="363.1" x2="363.1" y1="437.0" y2="452.0" stroke="rgb(8,153,129)" stroke-width="1"/>
<rect x="360.8" y="438.8" width="4.6" height="7.3" fill="rgb(8,153,129)"/>
<line x1="369.2" x2="369.2" y1="432.0" y2="442.0" stroke="rgb(8,153,129)" stroke-width="1"/>
<rect x="366.9" y="436.0" width="4.6" height="3.0" fill="rgb(8,153,129)"/>
<line x1="375.4" x2="375.4" y1="429.0" y2="440.0" stroke="rgb(8,153,129)" stroke-width="1"/>
<rect x="373.1" y="433.7" width="4.6" height="3.6" fill="rgb(8,153,129)"/>
<line x1="381.5" x2="381.5" y1="432.0" y2="447.0" stroke="rgb(242,54,69)" stroke-width="1"/>
<rect x="379.2" y="434.4" width="4.6" height="8.0" fill="rgb(242,54,69)"/>
<line x1="387.6" x2="387.6" y1="436.0" y2="449.0" stroke="rgb(8,153,129)" stroke-width="1"/>
<rect x="385.3" y="440.0" width="4.6" height="2.0" fill="rgb(8,153,129)"/>
<line x1="393.8" x2="393.8" y1="433.0" y2="444.0" stroke="rgb(8,153,129)" stroke-width="1"/>
<rect x="391.5" y="437.3" width="4.6" height="4.4" fill="rgb(8,153,129)"/>
<line x1="399.9" x2="399.9" y1="405.0" y2="438.0" stroke="rgb(8,153,129)" stroke-width="1"/>
<rect x="397.6" y="406.6" width="4.6" height="30.7" fill="rgb(8,153,129)"/>
<line x1="406.0" x2="406.0" y1="405.0" y2="425.0" stroke="rgb(242,54,69)" stroke-width="1"/>
<rect x="403.7" y="406.6" width="4.6" height="11.0" fill="rgb(242,54,69)"/>
<line x1="412.2" x2="412.2" y1="414.0" y2="425.0" stroke="rgb(242,54,69)" stroke-width="1"/>
<rect x="409.9" y="418.0" width="4.6" height="2.0" fill="rgb(242,54,69)"/>
<line x1="418.3" x2="418.3" y1="400.0" y2="420.0" stroke="rgb(8,153,129)" stroke-width="1"/>
<rect x="416.0" y="415.4" width="4.6" height="3.6" fill="rgb(8,153,129)"/>
<line x1="424.4" x2="424.4" y1="393.0" y2="416.0" stroke="rgb(8,153,129)" stroke-width="1"/>
<rect x="422.1" y="394.4" width="4.6" height="20.6" fill="rgb(8,153,129)"/>
<line x1="430.6" x2="430.6" y1="346.6" y2="397.8" stroke="rgb(8,153,129)" stroke-width="1"/>
<rect x="428.3" y="368.5" width="4.6" height="26.4" fill="rgb(8,153,129)"/>
<line x1="436.7" x2="436.7" y1="357.5" y2="376.0" stroke="rgb(8,153,129)" stroke-width="1"/>
<rect x="434.4" y="364.9" width="4.6" height="3.6" fill="rgb(8,153,129)"/>
<line x1="442.8" x2="442.8" y1="364.0" y2="392.0" stroke="rgb(242,54,69)" stroke-width="1"/>
<rect x="440.5" y="364.9" width="4.6" height="16.8" fill="rgb(242,54,69)"/>
<line x1="449.0" x2="449.0" y1="370.0" y2="384.0" stroke="rgb(8,153,129)" stroke-width="1"/>
<rect x="446.7" y="378.8" width="4.6" height="3.6" fill="rgb(8,153,129)"/>
<line x1="455.1" x2="455.1" y1="372.0" y2="385.0" stroke="rgb(242,54,69)" stroke-width="1"/>
<rect x="452.8" y="379.0" width="4.6" height="2.0" fill="rgb(242,54,69)"/>
<line x1="461.2" x2="461.2" y1="280.5" y2="380.0" stroke="rgb(8,153,129)" stroke-width="1"/>
<rect x="458.9" y="292.0" width="4.6" height="87.2" fill="rgb(8,153,129)"/>
<line x1="467.4" x2="467.4" y1="247.4" y2="293.0" stroke="rgb(8,153,129)" stroke-width="1"/>
<rect x="465.1" y="281.0" width="4.6" height="11.8" fill="rgb(8,153,129)"/>
<line x1="473.5" x2="473.5" y1="259.7" y2="306.5" stroke="rgb(242,54,69)" stroke-width="1"/>
<rect x="471.2" y="280.5" width="4.6" height="2.0" fill="rgb(242,54,69)"/>
<line x1="479.6" x2="479.6" y1="280.0" y2="304.4" stroke="rgb(8,153,129)" stroke-width="1"/>
<rect x="477.3" y="281.0" width="4.6" height="2.0" fill="rgb(8,153,129)"/>
<line x1="485.8" x2="485.8" y1="274.0" y2="294.8" stroke="rgb(242,54,69)" stroke-width="1"/>
<rect x="483.5" y="281.0" width="4.6" height="2.0" fill="rgb(242,54,69)"/>
<line x1="491.9" x2="491.9" y1="255.0" y2="283.0" stroke="rgb(8,153,129)" stroke-width="1"/>
<rect x="489.6" y="255.7" width="4.6" height="26.3" fill="rgb(8,153,129)"/>
<line x1="498.0" x2="498.0" y1="239.5" y2="292.4" stroke="rgb(242,54,69)" stroke-width="1"/>
<rect x="495.7" y="255.7" width="4.6" height="34.3" fill="rgb(242,54,69)"/>
<line x1="504.2" x2="504.2" y1="281.3" y2="326.0" stroke="rgb(242,54,69)" stroke-width="1"/>
<rect x="501.9" y="290.0" width="4.6" height="26.4" fill="rgb(242,54,69)"/>
<line x1="510.3" x2="510.3" y1="305.2" y2="352.3" stroke="rgb(242,54,69)" stroke-width="1"/>
<rect x="508.0" y="317.2" width="4.6" height="11.9" fill="rgb(242,54,69)"/>
<line x1="516.4" x2="516.4" y1="314.3" y2="333.0" stroke="rgb(242,54,69)" stroke-width="1"/>
<rect x="514.1" y="329.0" width="4.6" height="3.7" fill="rgb(242,54,69)"/>
<line x1="522.6" x2="522.6" y1="305.0" y2="332.0" stroke="rgb(8,153,129)" stroke-width="1"/>
<rect x="520.3" y="308.0" width="4.6" height="23.9" fill="rgb(8,153,129)"/>
<line x1="528.7" x2="528.7" y1="281.0" y2="309.0" stroke="rgb(8,153,129)" stroke-width="1"/>
<rect x="526.4" y="305.2" width="4.6" height="3.5" fill="rgb(8,153,129)"/>
<line x1="534.8" x2="534.8" y1="286.0" y2="322.0" stroke="rgb(242,54,69)" stroke-width="1"/>
<rect x="532.5" y="305.2" width="4.6" height="12.3" fill="rgb(242,54,69)"/>
<line x1="541.0" x2="541.0" y1="312.4" y2="339.5" stroke="rgb(242,54,69)" stroke-width="1"/>
<rect x="538.7" y="317.5" width="4.6" height="18.3" fill="rgb(242,54,69)"/>
<line x1="547.1" x2="547.1" y1="325.2" y2="344.3" stroke="rgb(8,153,129)" stroke-width="1"/>
<rect x="544.8" y="329.1" width="4.6" height="7.2" fill="rgb(8,153,129)"/>
<line x1="553.2" x2="553.2" y1="329.0" y2="345.0" stroke="rgb(242,54,69)" stroke-width="1"/>
<rect x="550.9" y="329.1" width="4.6" height="7.2" fill="rgb(242,54,69)"/>
<line x1="559.4" x2="559.4" y1="336.0" y2="349.0" stroke="rgb(242,54,69)" stroke-width="1"/>
<rect x="557.1" y="336.3" width="4.6" height="4.3" fill="rgb(242,54,69)"/>
<line x1="565.5" x2="565.5" y1="333.1" y2="341.0" stroke="rgb(8,153,129)" stroke-width="1"/>
<rect x="563.2" y="335.2" width="4.6" height="5.1" fill="rgb(8,153,129)"/>
<path d="M550.1,327.8 C550.8,327.4 553.1,325.7 554.5,325.6 C555.9,325.6 557.3,326.2 558.5,327.5 C559.7,328.8 560.9,331.1 561.8,333.5 C562.7,335.9 563.0,339.4 563.8,342.0 C564.5,344.6 565.3,347.5 566.3,349.3 C567.3,351.1 568.7,354.2 569.6,353.0 C570.5,351.8 571.1,342.9 571.9,342.3 C572.6,341.7 572.9,346.2 574.1,349.3 C575.4,352.4 577.9,360.0 579.4,360.8 C580.9,361.6 581.4,358.8 583.0,354.3 C584.6,349.9 587.4,339.6 589.3,334.1 C591.2,328.6 592.8,324.9 594.3,321.5 C595.8,318.1 596.8,314.3 598.1,313.9 C599.4,313.5 600.2,320.6 601.9,319.0 C603.6,317.4 606.2,305.1 608.2,304.3 C610.2,303.5 611.7,314.4 613.8,314.4 C615.9,314.4 618.6,304.0 620.8,304.3 C623.0,304.6 625.3,313.5 627.2,316.4 C629.1,319.3 630.7,325.7 632.2,321.5 C633.7,317.3 634.5,300.5 636.0,291.2 C637.5,281.9 639.5,272.0 641.1,265.9 C642.7,259.8 643.9,253.7 645.6,254.5 C647.3,255.3 649.5,267.6 651.2,271.0 C652.9,274.4 654.5,277.2 655.7,274.7 C657.0,272.2 657.2,262.5 658.7,255.8 C660.2,249.1 662.9,236.4 665.0,234.3 C667.1,232.2 669.1,239.8 671.4,243.2 C673.6,246.6 676.5,253.7 678.5,254.5 C680.5,255.3 681.7,254.3 683.5,248.2 C685.3,242.1 687.2,227.4 689.1,217.9 C691.0,208.4 693.7,195.8 694.6,191.4" fill="none" stroke="rgb(86,163,80)" stroke-width="2.3" stroke-linecap="round" stroke-linejoin="round"/>
<circle cx="566" cy="503.4" r="8.6" fill="#fff" stroke="rgb(115,60,165)" stroke-width="1.4"/>
<path d="M567.6,498.8 L562.8,504.3 L566.0,504.3 L564.6,508.2 L569.4,502.7 L566.2,502.7 Z" fill="rgb(130,50,180)" stroke="rgb(130,50,180)" stroke-width="0.7" stroke-linejoin="round"/>
<circle cx="572.3" cy="497.4" r="2.5" fill="rgb(230,40,50)" stroke="#fff" stroke-width="1"/>
</g>
<path d="M613,449.5 Q613,447.4 615,447.4 L650.5,447.4 L658,440.2 L665.5,447.4 L701,447.4 Q703,447.4 703,449.5 L703,467.3 Q703,469.3 701,469.3 L615,469.3 Q613,469.3 613,467.3 Z" fill="rgb(41,98,255)"/>
<text x="621.2" y="462.8" font-size="11.4" fill="rgb(35,55,125)" font-weight="400" stroke="rgb(35,55,125)" stroke-width="0.22" textLength="74.0" lengthAdjust="spacingAndGlyphs">POC: 0.20384</text>
<g clip-path="url(#rsiclip)">
<rect x="79" y="571.5" width="889" height="86.6" fill="rgba(126,87,194,0.1)"/>
<line x1="79" x2="968" y1="571.5" y2="571.5" stroke="rgb(140,140,150)" stroke-width="1" stroke-dasharray="4.5,5.45" stroke-dashoffset="0"/>
<line x1="79" x2="968" y1="614.9" y2="614.9" stroke="rgb(140,140,150)" stroke-width="1" stroke-dasharray="4.5,5.45" stroke-dashoffset="0"/>
<line x1="79" x2="968" y1="658.1" y2="658.1" stroke="rgb(140,140,150)" stroke-width="1" stroke-dasharray="4.5,5.45" stroke-dashoffset="0"/>
<polygon points="79.3,571.5 79.3,571.5 87.2,571.5 93.3,571.5 99.1,571.5 105.7,571.5 111.7,571.5 118.1,571.5 124.1,571.5 130.7,571.5 136.5,571.5 142.6,571.5 147.9,571.5 149.0,571.5 154.5,568.2 161.0,563.0 167.6,555.6 174.2,551.1 179.0,549.8 183.4,571.5 184.8,571.5 190.8,571.5 198.0,571.5 203.2,571.5 209.8,571.5 215.6,571.5 222.5,571.5 228.3,571.5 234.9,571.5 240.7,571.5 246.7,571.5 252.5,571.5 259.1,571.5 264.7,571.5 271.0,571.5 277.0,571.5 283.6,571.5 290.2,571.5 296.3,571.5 302.1,571.5 307.4,571.5 314.0,571.5 320.0,571.5 325.8,571.5 332.4,571.5 338.5,571.5 345.3,571.5 347.0,571.5 350.5,535.0 357.1,538.7 363.7,535.5 374.3,533.4 381.7,559.8 387.5,558.5 394.0,554.5 400.1,538.2 407.2,559.3 411.7,562.4 417.8,559.3 424.4,548.2 431.0,539.5 437.5,538.7 443.3,564.0 448.1,562.7 454.7,564.0 461.3,537.1 467.9,535.5 474.5,536.1 485.5,536.1 491.1,531.9 498.2,565.1 500.0,571.5 504.0,571.5 510.0,571.5 516.1,571.5 523.2,571.5 528.5,571.5 535.1,571.5 540.9,571.5 547.0,571.5 553.6,571.5 559.4,571.5 565.4,571.5 565.4,571.5" fill="url(#rsig)"/>
<path d="M79.3,599.9 C81.3,598.7 87.0,595.0 91.2,592.7 C95.4,590.4 100.0,587.8 104.4,585.9 C108.8,584.0 113.1,582.4 117.5,581.4 C121.9,580.4 126.3,580.2 130.7,579.6 C135.1,579.0 139.5,577.9 143.9,577.5 C148.3,577.1 152.7,578.0 157.1,577.5 C161.5,577.0 165.9,575.4 170.3,574.3 C174.7,573.2 179.1,571.3 183.5,570.9 C187.9,570.5 192.2,571.3 196.6,571.7 C201.0,572.1 205.4,572.6 209.8,573.5 C214.2,574.4 218.6,575.6 223.0,576.9 C227.4,578.2 231.8,579.6 236.2,581.4 C240.6,583.2 245.0,585.1 249.4,587.5 C253.8,589.9 258.2,593.7 262.6,595.9 C267.0,598.1 271.3,599.6 275.7,600.7 C280.1,601.8 284.5,601.5 288.9,602.5 C293.3,603.5 297.7,605.9 302.1,607.0 C306.5,608.1 310.9,608.8 315.3,609.1 C319.7,609.5 324.1,609.2 328.5,609.1 C332.9,609.0 337.5,610.3 341.6,608.6 C345.7,606.9 349.1,601.8 353.2,598.8 C357.3,595.8 362.0,593.7 366.4,590.4 C370.8,587.1 375.1,582.4 379.5,579.0 C383.9,575.6 388.3,572.9 392.7,569.8 C397.1,566.7 401.5,563.2 405.9,560.6 C410.3,558.0 414.7,556.3 419.1,554.0 C423.5,551.7 427.9,547.3 432.3,546.6 C436.7,545.9 441.1,548.9 445.5,550.0 C449.9,551.1 454.2,553.5 458.6,553.5 C463.0,553.5 467.4,550.9 471.8,550.0 C476.2,549.1 480.6,548.8 485.0,548.2 C489.4,547.6 493.8,545.6 498.2,546.6 C502.6,547.6 507.0,551.7 511.4,554.0 C515.8,556.3 520.2,558.9 524.6,560.6 C529.0,562.4 534.2,563.0 537.7,564.5 C541.2,566.0 543.0,567.1 545.6,569.3 C548.2,571.5 550.3,574.8 553.6,577.7 C556.9,580.7 563.4,585.5 565.4,587.0" fill="none" stroke="rgb(238,225,125)" stroke-width="1.5"/>
<polyline points="79.3,575.6 87.2,579.6 93.3,590.1 99.1,590.1 105.7,576.9 111.7,577.5 118.1,573.8 124.1,582.2 130.7,580.6 136.5,577.5 142.6,573.0 147.9,572.2 154.5,568.2 161.0,563.0 167.6,555.6 174.2,551.1 179.0,549.8 184.8,578.2 190.8,573.0 198.0,602.0 203.2,591.2 209.8,601.2 215.6,592.2 222.5,603.8 228.3,604.6 234.9,610.4 240.7,599.1 246.7,601.2 252.5,599.9 259.1,615.7 264.7,605.7 271.0,605.7 277.0,593.3 283.6,595.1 290.2,606.5 296.3,622.3 302.1,629.4 307.4,629.4 314.0,618.8 320.0,609.6 325.8,601.2 332.4,601.2 338.5,600.4 345.3,588.8 350.5,535.0 357.1,538.7 363.7,535.5 374.3,533.4 381.7,559.8 387.5,558.5 394.0,554.5 400.1,538.2 407.2,559.3 411.7,562.4 417.8,559.3 424.4,548.2 431.0,539.5 437.5,538.7 443.3,564.0 448.1,562.7 454.7,564.0 461.3,537.1 467.9,535.5 474.5,536.1 485.5,536.1 491.1,531.9 498.2,565.1 504.0,586.2 510.0,594.9 516.1,597.5 523.2,587.0 528.5,586.2 535.1,598.3 540.9,606.2 547.0,603.3 553.6,608.6 559.4,610.7 565.4,607.3" fill="none" stroke="rgb(115,100,170)" stroke-width="1.3" stroke-linejoin="round"/>
</g>
<text x="8.9" y="18.4" font-size="11.3" fill="rgb(45,45,45)" font-weight="400" stroke="rgb(45,45,45)" stroke-width="0.22" textLength="359.5" lengthAdjust="spacingAndGlyphs">ol_charles created with TradingView.com, Aug 29, 2025 12:40 UTC+2</text>
<rect x="88" y="31.7" width="464" height="15.2" fill="#fff" fill-opacity="0.85"/>
<rect x="88" y="47.3" width="715" height="15.2" fill="#fff" fill-opacity="0.85"/>
<rect x="88" y="62.9" width="532" height="15.2" fill="#fff" fill-opacity="0.85"/>
<rect x="88" y="78.5" width="228" height="15.2" fill="#fff" fill-opacity="0.85"/>
<text x="85.8" y="42.7" font-size="11.5" fill="rgb(40,40,40)" font-weight="400" stroke="rgb(40,40,40)" stroke-width="0.22" textLength="129.3" lengthAdjust="spacingAndGlyphs">Cronos/Tether · 2h · OKX</text>
<text x="220.6" y="42.7" font-size="11.5" fill="rgb(40,40,40)" font-weight="400" stroke="rgb(40,40,40)" stroke-width="0.22" textLength="8.5" lengthAdjust="spacingAndGlyphs">O</text>
<text x="228.9" y="42.7" font-size="11.5" fill="rgb(45,163,143)" font-weight="400" stroke="rgb(45,163,143)" stroke-width="0.22" textLength="43.9" lengthAdjust="spacingAndGlyphs">0.29502</text>
<text x="279.2" y="42.7" font-size="11.5" fill="rgb(40,40,40)" font-weight="400" stroke="rgb(40,40,40)" stroke-width="0.22" textLength="8.5" lengthAdjust="spacingAndGlyphs">H</text>
<text x="287.7" y="42.7" font-size="11.5" fill="rgb(45,163,143)" font-weight="400" stroke="rgb(45,163,143)" stroke-width="0.22" textLength="40.7" lengthAdjust="spacingAndGlyphs">0.30197</text>
<text x="335.2" y="42.7" font-size="11.5" fill="rgb(40,40,40)" font-weight="400" stroke="rgb(40,40,40)" stroke-width="0.22" textLength="6.3" lengthAdjust="spacingAndGlyphs">L</text>
<text x="341.5" y="42.7" font-size="11.5" fill="rgb(45,163,143)" font-weight="400" stroke="rgb(45,163,143)" stroke-width="0.22" textLength="42.6" lengthAdjust="spacingAndGlyphs">0.29362</text>
<text x="391.2" y="42.7" font-size="11.5" fill="rgb(40,40,40)" font-weight="400" stroke="rgb(40,40,40)" stroke-width="0.22" textLength="8.5" lengthAdjust="spacingAndGlyphs">C</text>
<text x="399.5" y="42.7" font-size="11.5" fill="rgb(45,163,143)" font-weight="400" stroke="rgb(45,163,143)" stroke-width="0.22" textLength="43.5" lengthAdjust="spacingAndGlyphs">0.29959</text>
<text x="448.8" y="42.7" font-size="11.5" fill="rgb(45,163,143)" font-weight="400" stroke="rgb(45,163,143)" stroke-width="0.22" textLength="100.7" lengthAdjust="spacingAndGlyphs">+0.00452 (+1.53%)</text>
<text x="86.1" y="58.3" font-size="11.5" fill="rgb(40,40,40)" font-weight="400" stroke="rgb(40,40,40)" stroke-width="0.22" textLength="93.2" lengthAdjust="spacingAndGlyphs">FBB (200, hlc3, 3)</text>
<text x="185.8" y="58.3" font-size="11.5" fill="rgb(225,60,235)" font-weight="400" stroke="rgb(225,60,235)" stroke-width="0.22" textLength="41.2" lengthAdjust="spacingAndGlyphs">0.27192</text>
<text x="233.7" y="58.3" font-size="11.5" fill="rgb(150,150,150)" font-weight="400" stroke="rgb(150,150,150)" stroke-width="0.22" textLength="43.9" lengthAdjust="spacingAndGlyphs">0.30948</text>
<text x="283.9" y="58.3" font-size="11.5" fill="rgb(150,150,150)" font-weight="400" stroke="rgb(150,150,150)" stroke-width="0.22" textLength="42.6" lengthAdjust="spacingAndGlyphs">0.33272</text>
<text x="333.3" y="58.3" font-size="11.5" fill="rgb(150,150,150)" font-weight="400" stroke="rgb(150,150,150)" stroke-width="0.22" textLength="39.1" lengthAdjust="spacingAndGlyphs">0.35151</text>
<text x="378.8" y="58.3" font-size="11.5" fill="rgb(240,150,50)" font-weight="400" stroke="rgb(240,150,50)" stroke-width="0.22" textLength="43.1" lengthAdjust="spacingAndGlyphs">0.37029</text>
<text x="428.3" y="58.3" font-size="11.5" fill="rgb(150,150,150)" font-weight="400" stroke="rgb(150,150,150)" stroke-width="0.22" textLength="43.6" lengthAdjust="spacingAndGlyphs">0.39353</text>
<text x="478.1" y="58.3" font-size="11.5" fill="rgb(215,40,40)" font-weight="400" stroke="rgb(215,40,40)" stroke-width="0.22" textLength="41.1" lengthAdjust="spacingAndGlyphs">0.43110</text>
<text x="525.0" y="58.3" font-size="11.5" fill="rgb(150,150,150)" font-weight="400" stroke="rgb(150,150,150)" stroke-width="0.22" textLength="44.0" lengthAdjust="spacingAndGlyphs">0.23435</text>
<text x="575.4" y="58.3" font-size="11.5" fill="rgb(150,150,150)" font-weight="400" stroke="rgb(150,150,150)" stroke-width="0.22" textLength="36.4" lengthAdjust="spacingAndGlyphs">0.21111</text>
<text x="618.1" y="58.3" font-size="11.5" fill="rgb(150,150,150)" font-weight="400" stroke="rgb(150,150,150)" stroke-width="0.22" textLength="41.3" lengthAdjust="spacingAndGlyphs">0.19232</text>
<text x="665.7" y="58.3" font-size="11.5" fill="rgb(240,150,50)" font-weight="400" stroke="rgb(240,150,50)" stroke-width="0.22" textLength="41.3" lengthAdjust="spacingAndGlyphs">0.17354</text>
<text x="713.3" y="58.3" font-size="11.5" fill="rgb(150,150,150)" font-weight="400" stroke="rgb(150,150,150)" stroke-width="0.22" textLength="42.5" lengthAdjust="spacingAndGlyphs">0.15030</text>
<text x="762.1" y="58.3" font-size="11.5" fill="rgb(60,150,60)" font-weight="400" stroke="rgb(60,150,60)" stroke-width="0.22" textLength="38.9" lengthAdjust="spacingAndGlyphs">0.11273</text>
<text x="85.8" y="73.9" font-size="11.5" fill="rgb(40,40,40)" font-weight="400" stroke="rgb(40,40,40)" stroke-width="0.22" textLength="531.5" lengthAdjust="spacingAndGlyphs">Volume Profile Bar-Magnified Order Blocks [JacobMagleby] (7, 10, Close Engulfs 100% Of Order Block)</text>
<text x="85.8" y="89.5" font-size="11.5" fill="rgb(40,40,40)" font-weight="400" stroke="rgb(40,40,40)" stroke-width="0.22" textLength="228.3" lengthAdjust="spacingAndGlyphs">Volume Profile / Fixed Range (150, 24, 70, 2)</text>
<rect x="88" y="523.5" width="144" height="15.2" fill="#fff" fill-opacity="0.85"/>
<text x="86.1" y="534.5" font-size="11.5" fill="rgb(40,40,40)" font-weight="400" stroke="rgb(40,40,40)" stroke-width="0.22" textLength="73.3" lengthAdjust="spacingAndGlyphs">RSI (14, close)</text>
<text x="166.2" y="534.5" font-size="11.5" fill="rgb(135,115,200)" font-weight="400" stroke="rgb(135,115,200)" stroke-width="0.22" textLength="28.1" lengthAdjust="spacingAndGlyphs">53.21</text>
<text x="200.6" y="534.5" font-size="11.5" fill="rgb(245,228,135)" font-weight="400" stroke="rgb(245,228,135)" stroke-width="0.22" textLength="28.3" lengthAdjust="spacingAndGlyphs">62.72</text>
<rect x="14.2" y="28.6" width="61" height="22.6" rx="4" fill="#fff" stroke="#ececec" stroke-width="1"/>
<text x="21.5" y="44.2" font-size="11.35" fill="rgb(40,40,40)" text-anchor="start" font-weight="400" >USDT</text>
<text x="25.3" y="65.9" font-size="11.3" fill="rgb(40,40,40)" font-weight="400" stroke="rgb(40,40,40)" stroke-width="0.22" textLength="45.2" lengthAdjust="spacingAndGlyphs">0.55000</text>
<text x="25.3" y="120.6" font-size="11.3" fill="rgb(40,40,40)" font-weight="400" stroke="rgb(40,40,40)" stroke-width="0.22" textLength="45.2" lengthAdjust="spacingAndGlyphs">0.50000</text>
<text x="25.3" y="175.2" font-size="11.3" fill="rgb(40,40,40)" font-weight="400" stroke="rgb(40,40,40)" stroke-width="0.22" textLength="45.2" lengthAdjust="spacingAndGlyphs">0.45000</text>
<text x="25.3" y="229.8" font-size="11.3" fill="rgb(40,40,40)" font-weight="400" stroke="rgb(40,40,40)" stroke-width="0.22" textLength="45.2" lengthAdjust="spacingAndGlyphs">0.40000</text>
<text x="25.3" y="393.8" font-size="11.3" fill="rgb(40,40,40)" font-weight="400" stroke="rgb(40,40,40)" stroke-width="0.22" textLength="45.2" lengthAdjust="spacingAndGlyphs">0.25000</text>
<text x="25.3" y="448.4" font-size="11.3" fill="rgb(40,40,40)" font-weight="400" stroke="rgb(40,40,40)" stroke-width="0.22" textLength="45.2" lengthAdjust="spacingAndGlyphs">0.20000</text>
<rect x="21.1" y="184.2" width="56.8" height="15" rx="1" fill="rgb(240,18,18)"/>
<text x="25.5" y="195.9" font-size="11.3" fill="#fff" font-weight="400" textLength="45.2" lengthAdjust="spacingAndGlyphs">0.43110</text>
<rect x="21.1" y="225.2" width="56.8" height="15" rx="1" fill="rgb(128,128,128)"/>
<text x="25.5" y="236.9" font-size="11.3" fill="#fff" font-weight="400" textLength="45.2" lengthAdjust="spacingAndGlyphs">0.39353</text>
<rect x="21.1" y="250.6" width="56.8" height="15" rx="1" fill="rgb(255,128,10)"/>
<text x="25.5" y="262.3" font-size="11.3" fill="#fff" font-weight="400" textLength="45.2" lengthAdjust="spacingAndGlyphs">0.37029</text>
<rect x="21.1" y="271.1" width="56.8" height="15" rx="1" fill="rgb(128,128,128)"/>
<text x="25.5" y="282.8" font-size="11.3" fill="#fff" font-weight="400" textLength="45.2" lengthAdjust="spacingAndGlyphs">0.35151</text>
<rect x="21.1" y="291.7" width="56.8" height="15" rx="1" fill="rgb(128,128,128)"/>
<text x="25.5" y="303.4" font-size="11.3" fill="#fff" font-weight="400" textLength="45.2" lengthAdjust="spacingAndGlyphs">0.33272</text>
<rect x="21.1" y="312.2" width="56.8" height="15" rx="1" fill="rgb(128,128,128)"/>
<text x="25.5" y="323.9" font-size="11.3" fill="#fff" font-weight="400" textLength="45.2" lengthAdjust="spacingAndGlyphs">0.30948</text>
<rect x="21.1" y="358.1" width="56.8" height="15" rx="1" fill="rgb(240,0,240)"/>
<text x="25.5" y="369.8" font-size="11.3" fill="#fff" font-weight="400" textLength="45.2" lengthAdjust="spacingAndGlyphs">0.27192</text>
<rect x="21.1" y="399.2" width="56.8" height="15" rx="1" fill="rgb(128,128,128)"/>
<text x="25.5" y="410.9" font-size="11.3" fill="#fff" font-weight="400" textLength="45.2" lengthAdjust="spacingAndGlyphs">0.23435</text>
<rect x="21.1" y="424.6" width="56.8" height="15" rx="1" fill="rgb(128,128,128)"/>
<text x="25.5" y="436.3" font-size="11.3" fill="#fff" font-weight="400" textLength="45.2" lengthAdjust="spacingAndGlyphs">0.21111</text>
<rect x="21.1" y="445.1" width="56.8" height="15" rx="1" fill="rgb(128,128,128)"/>
<text x="25.5" y="456.8" font-size="11.3" fill="#fff" font-weight="400" textLength="45.2" lengthAdjust="spacingAndGlyphs">0.19232</text>
<rect x="21.1" y="465.7" width="56.8" height="15" rx="1" fill="rgb(255,128,10)"/>
<text x="25.5" y="477.4" font-size="11.3" fill="#fff" font-weight="400" textLength="45.2" lengthAdjust="spacingAndGlyphs">0.17354</text>
<rect x="21.1" y="491.1" width="56.8" height="15" rx="1" fill="rgb(128,128,128)"/>
<text x="25.5" y="502.8" font-size="11.3" fill="#fff" font-weight="400" textLength="45.2" lengthAdjust="spacingAndGlyphs">0.15030</text>
<rect x="17.3" y="328" width="60.6" height="27.4" rx="2" fill="rgb(22,150,128)"/>
<text x="26.1" y="339.0" font-size="11.3" fill="#fff" font-weight="400" textLength="44.9" lengthAdjust="spacingAndGlyphs">0.29959</text>
<text x="22.1" y="351.7" font-size="11.3" fill="#fff" font-weight="400" textLength="48.9" lengthAdjust="spacingAndGlyphs">01:19:56</text>
<rect x="79" y="328" width="60.6" height="14.6" rx="2" fill="rgb(22,150,128)"/>
<text x="81.9" y="339.0" font-size="11.3" fill="#fff" font-weight="400" textLength="53.7" lengthAdjust="spacingAndGlyphs">CROUSDT</text>
<text x="974.9" y="554.1" font-size="11.3" fill="rgb(40,40,40)" font-weight="400" stroke="rgb(40,40,40)" stroke-width="0.22" textLength="31.6" lengthAdjust="spacingAndGlyphs">80.00</text>
<text x="974.9" y="597.4" font-size="11.3" fill="rgb(40,40,40)" font-weight="400" stroke="rgb(40,40,40)" stroke-width="0.22" textLength="31.6" lengthAdjust="spacingAndGlyphs">60.00</text>
<text x="974.9" y="640.7" font-size="11.3" fill="rgb(40,40,40)" font-weight="400" stroke="rgb(40,40,40)" stroke-width="0.22" textLength="31.6" lengthAdjust="spacingAndGlyphs">40.00</text>
<rect x="968" y="579.8" width="43" height="15" rx="2" fill="rgb(250,210,40)"/>
<text x="974.9" y="591.5" font-size="11.3" fill="rgb(30,30,30)" font-weight="400" stroke="rgb(30,30,30)" stroke-width="0.22" textLength="31.6" lengthAdjust="spacingAndGlyphs">62.72</text>
<rect x="968" y="600.4" width="43" height="15" rx="2" fill="rgb(126,87,194)"/>
<text x="974.9" y="612.1" font-size="11.3" fill="#fff" font-weight="400" textLength="31.6" lengthAdjust="spacingAndGlyphs">53.21</text>
<text x="87.1" y="688.6" font-size="11.4" fill="rgb(40,40,40)" text-anchor="middle" font-weight="400" >23</text>
<text x="160.7" y="688.6" font-size="11.4" fill="rgb(40,40,40)" text-anchor="middle" font-weight="400" >24</text>
<text x="234.3" y="688.6" font-size="11.4" fill="rgb(40,40,40)" text-anchor="middle" font-weight="400" >25</text>
<text x="307.9" y="688.6" font-size="11.4" fill="rgb(40,40,40)" text-anchor="middle" font-weight="400" >26</text>
<text x="381.5" y="688.6" font-size="11.4" fill="rgb(40,40,40)" text-anchor="middle" font-weight="400" >27</text>
<text x="455.1" y="688.6" font-size="11.4" fill="rgb(40,40,40)" text-anchor="middle" font-weight="400" >28</text>
<text x="528.7" y="688.6" font-size="11.4" fill="rgb(40,40,40)" text-anchor="middle" font-weight="400" >29</text>
<text x="602.3" y="688.6" font-size="11.4" fill="rgb(40,40,40)" text-anchor="middle" font-weight="400" >30</text>
<text x="675.9" y="688.6" font-size="11.4" fill="rgb(40,40,40)" text-anchor="middle" font-weight="400" >31</text>
<text x="749.5" y="688.6" font-size="11.4" fill="rgb(40,40,40)" text-anchor="middle" font-weight="700" >Sep</text>
<text x="823.1" y="688.6" font-size="11.4" fill="rgb(40,40,40)" text-anchor="middle" font-weight="400" >2</text>
<text x="896.7" y="688.6" font-size="11.4" fill="rgb(40,40,40)" text-anchor="middle" font-weight="400" >3</text>
<circle cx="44.2" cy="684.6" r="8.2" fill="rgb(243,243,243)"/>
<text x="44.2" y="688.4" font-size="10" fill="rgb(90,90,90)" text-anchor="middle" font-weight="700" >Z</text>
<circle cx="991.4" cy="684.7" r="8.2" fill="rgb(243,243,243)"/>
<text x="991.4" y="688.5" font-size="10.5" fill="rgb(90,90,90)" text-anchor="middle" font-weight="700" >A</text>
<path d="M11.3,717.2 H21.4 V730.8 H15.6 V721.7 H11.3 Z" fill="rgb(19,23,34)"/>
<circle cx="26.9" cy="719.8" r="2.4" fill="rgb(19,23,34)"/>
<path d="M31.2,717.2 H37.8 L32.6,730.8 H25.8 Z" fill="rgb(19,23,34)"/>
<text x="45.6" y="730.8" font-size="18.6" fill="rgb(19,23,34)" text-anchor="start" font-weight="700" >TradingView</text>
</svg>
</body></html>
